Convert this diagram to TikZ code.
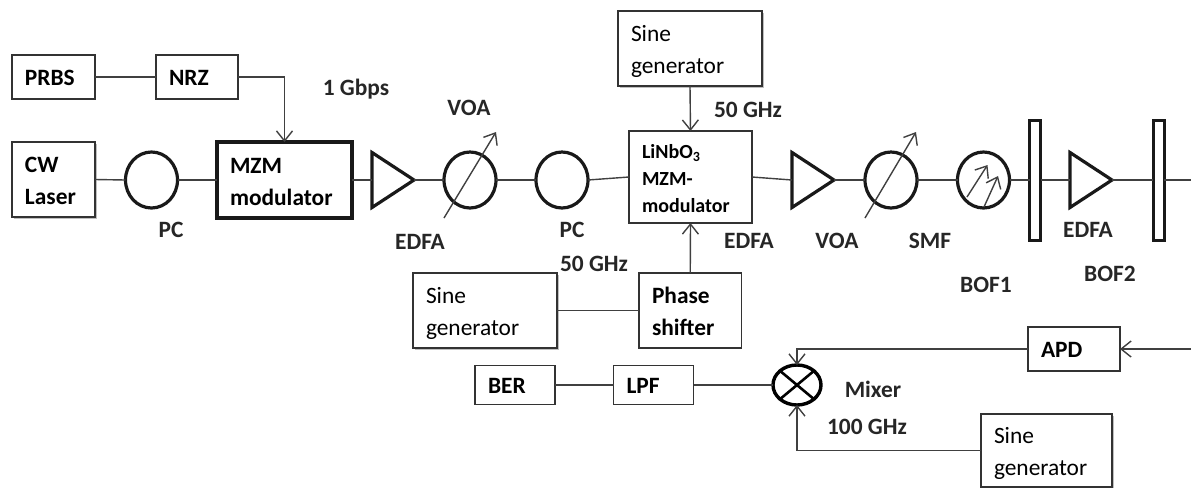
\documentclass[tikz,border=0pt]{standalone}
\usepackage{fontspec}
\setmainfont{Carlito}
\usetikzlibrary{arrows.meta,shapes.geometric,shadows}

\tikzset{
    base/.style={draw=black!80, line width=0.7pt, outer sep=0pt, inner xsep=6.5pt, inner ysep=0pt, align=left},
    boxtext/.style={font=\bfseries\fontsize{11.7}{16}\selectfont, text height=9.5pt},
    sinebox/.style={base, font=\fontsize{11.7}{16}\selectfont, text height=11.5pt, drop shadow={shadow xshift=1pt, shadow yshift=-1pt, opacity=0.25, fill=black}, fill=white},
    pcring/.style={ellipse, draw=black!90, line width=1.6pt, minimum width=26pt, minimum height=28pt, inner sep=0pt, outer sep=0pt},
    amp/.style={isosceles triangle, isosceles triangle stretches, draw=black!90, line width=1.6pt, minimum width=27.5pt, minimum height=21pt, inner sep=0pt, outer sep=0pt},
    bof/.style={rectangle, draw=black!90, line width=1.5pt, minimum width=5.5pt, minimum height=60pt, inner sep=0pt, outer sep=0pt},
    lbl/.style={font=\bfseries\fontsize{11.7}{14}\selectfont, text=black!85, inner sep=0pt},
    wire/.style={draw=black!75, line width=0.7pt},
    feed/.style={wire, -{Straight Barb[length=5pt,width=8pt]}}
}

\begin{document}
\begin{tikzpicture}[x=0.5pt, y=-0.5pt]
    \useasboundingbox (0,0) rectangle (1191,488);

    % Data source boxes
    \node[base, boxtext, text height=8.5pt, text width=28.5pt, minimum height=22pt] (prbs) at (53.5,77) {PRBS};
    \node[base, boxtext, text height=8.5pt, text width=28pt, minimum height=22pt] (nrz) at (197,77) {NRZ};
    \node[base, boxtext, text width=28.5pt, minimum height=37.5pt, fill=white, drop shadow={shadow xshift=1pt, shadow yshift=-1pt, opacity=0.25, fill=black}] (laser) at (53.5,179.5) {CW\\Laser};
    \node[base, boxtext, text width=54.5pt, minimum height=38pt, draw=black!90, line width=1.6pt] (mzm) at (284.5,180) {MZM\\modulator};

    % Optical line, first part
    \node[pcring] (pca) at (151.5,180) {};
    \node[amp, anchor=lower side] (edfaa) at (372,180) {};
    \node[pcring] (voaa) at (470,180) {};
    \node[pcring] (pcb) at (562,180) {};
    \node[base, font=\bfseries\fontsize{10}{13.5}\selectfont, text height=9pt, text width=48.5pt, minimum height=46pt] (linbo) at (690.5,177) {LiNbO\textsubscript{3}\\MZM-\\modulator};

    % Optical line, second part
    \node[amp, anchor=lower side] (edfab) at (792,180) {};
    \node[pcring] (voab) at (891,180) {};
    \node[pcring] (smf) at (983.5,180) {};
    \node[bof] (bofa) at (1035,180) {};
    \node[amp, anchor=lower side] (edfac) at (1070,180) {};
    \node[bof] (bofb) at (1158.5,180) {};
    \coordinate (lineend) at (1191,180);

    % Sine sources and phase shifter
    \node[sinebox, text width=59pt, minimum height=37.5pt] (sinea) at (690,48.5) {Sine\\generator};
    \node[base, boxtext, text width=38.25pt, minimum height=37.5pt] (phase) at (690.25,310.5) {Phase\\shifter};
    \node[sinebox, text width=59pt, minimum height=37.5pt] (sineb) at (485,310.5) {Sine\\generator};

    % Receiver
    \node[base, boxtext, text height=8.5pt, text width=33pt, minimum height=22pt] (apd) at (1074,349) {APD};
    \node[ellipse, draw=black, line width=1.7pt, minimum width=24pt, minimum height=20pt, inner sep=0pt, outer sep=0pt] (mixer) at (797,385) {};
    \node[base, boxtext, text height=8.5pt, text width=27pt, minimum height=19.5pt] (lpf) at (653.5,385) {LPF};
    \node[base, boxtext, text height=8.5pt, text width=27pt, minimum height=19.5pt] (ber) at (515,385) {BER};
    \node[sinebox, text width=52.5pt, minimum height=36.5pt] (sinec) at (1046.5,450.5) {Sine\\generator};
    \coordinate (apdin) at (1191,349);

    % Connections
    \draw[wire] (prbs) -- (nrz);
    \draw[feed] (nrz.east) -| (mzm.north);
    \draw[wire] (laser.east) -- (pca.west);
    \draw[wire] (pca.east) -- (mzm.west);
    \draw[wire] (mzm.east) -- (edfaa.lower side);
    \draw[wire] (edfaa.apex) -- (voaa.west);
    \draw[wire] (voaa.east) -- (pcb.west);
    \draw[wire] (pcb.east) -- (linbo.west);
    \draw[wire] (linbo.east) -- (edfab.lower side);
    \draw[wire] (edfab.apex) -- (voab.west);
    \draw[wire] (voab.east) -- (smf.west);
    \draw[wire] (smf.east) -- (bofa.west);
    \draw[wire] (bofa.east) -- (edfac.lower side);
    \draw[wire] (edfac.apex) -- (bofb.west);
    \draw[wire] (bofb.east) -- (lineend);
    \draw[feed] (sinea.south) -- (linbo.south |- linbo.north);
    \draw[feed] (phase.north) -- (linbo.south);
    \draw[wire] (sineb.east) -- (phase.west);
    \draw[feed] (apdin) -- (apd.east);
    \draw[feed] (apd.west) -| (mixer.north);
    \draw[feed] (sinec.west) -| (mixer.south);
    \draw[wire] (mixer.west) -- (lpf.east);
    \draw[wire] (lpf.west) -- (ber.east);

    % Mixer cross
    \draw[black, line width=1.3pt] (mixer.north west) -- (mixer.south east);
    \draw[black, line width=1.3pt] (mixer.north east) -- (mixer.south west);

    % Tunable and fibre arrows
    \coordinate (voaafrom) at (444,218);
    \coordinate (voaato) at (496,132);
    \coordinate (voabfrom) at (865,218);
    \coordinate (voabto) at (916,132);
    \coordinate (smffroma) at (967,197);
    \coordinate (smftoa) at (987.5,165);
    \coordinate (smffromb) at (984,207);
    \coordinate (smftob) at (998,176);
    \draw[feed] (voaafrom) -- (voaato);
    \draw[feed] (voabfrom) -- (voabto);
    \draw[feed] (smffroma) -- (smftoa);
    \draw[feed] (smffromb) -- (smftob);

    % Add labels
    \node[lbl] (lblrate) at (356,89) {1 Gbps};
    \node[lbl] (lblvoaa) at (469,108) {VOA};
    \node[lbl] (lblpca) at (171,230) {PC};
    \node[lbl] (lblpcb) at (572,230) {PC};
    \node[lbl] (lbledfaa) at (420,242) {EDFA};
    \node[lbl] (lblfifa) at (748,110) {50 GHz};
    \node[lbl] (lblfifb) at (594,264) {50 GHz};
    \node[lbl] (lbledfab) at (749,241) {EDFA};
    \node[lbl] (lblvoab) at (837,241) {VOA};
    \node[lbl] (lblsmf) at (930,241) {SMF};
    \node[lbl] (lbledfac) at (1088,230) {EDFA};
    \node[lbl] (lblbofa) at (986,285) {BOF1};
    \node[lbl] (lblbofb) at (1110,274) {BOF2};
    \node[lbl] (lblmixer) at (873,389) {Mixer};
    \node[lbl] (lblhund) at (867,427) {100 GHz};
\end{tikzpicture}
\end{document}
